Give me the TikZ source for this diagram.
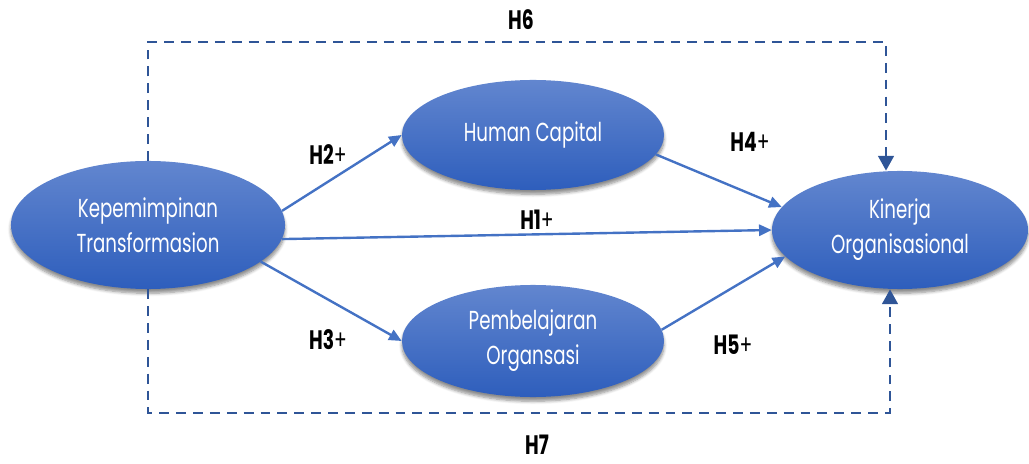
\documentclass[tikz,border=0pt]{standalone}
\usepackage{fontspec}
\setmainfont{Poppins}[FakeStretch=0.7]
\usetikzlibrary{arrows.meta, shapes.geometric, shadows.blur}

\begin{document}
\begin{tikzpicture}[x=0.025cm, y=-0.025cm,
    >=stealth,
    % Colors
    cline/.style={color={rgb,255:red,68;green,114;blue,196}},
    cdash/.style={color={rgb,255:red,47;green,85;blue,151}},
    % Styles
    latent/.style={ellipse, top color={rgb,255:red,98;green,134;blue,207},
                   bottom color={rgb,255:red,46;green,94;blue,188}, draw=none,
                   blur shadow={shadow xshift=0pt, shadow yshift=-3pt, shadow blur steps=6, shadow opacity=45},
                   inner sep=0pt, text=white, align=center, font=\fontsize{18.5}{25}\selectfont},
    hyp/.style={-{Triangle[length=9pt, width=8pt]}, line width=1.7pt, cline},
    hypdash/.style={-{Triangle[length=10.5pt, width=11pt]}, line width=2pt, cdash,
                    dash pattern=on 7pt off 5pt},
    lbl/.style={font=\bfseries\fontsize{19}{22}\selectfont, text=black},
  ]

  \useasboundingbox (0,0) rectangle (1029,464);

  % Variables
  \node[latent, minimum width=6.85cm, minimum height=3.2cm] (kep) at (148,225) {Kepemimpinan\\Transformasion};
  \node[latent, minimum width=6.55cm, minimum height=2.75cm] (hc) at (533,135) {Human Capital};
  \node[latent, minimum width=6.55cm, minimum height=2.8cm] (pem) at (533,341) {Pembelajaran\\Organsasi};
  \node[latent, minimum width=6.4cm, minimum height=2.95cm] (kin) at (900,230) {Kinerja\\Organisasional};

  % Direct paths
  \draw[hyp] (kep.6) -- (hc.west);
  \draw[hyp] (kep.-6) -- (kin.west);
  \draw[hyp] (kep.-18) -- (pem.west);
  \draw[hyp] (hc.-9) -- (kin.169);
  \draw[hyp] (pem.5) -- (kin.193);

  % Mediated paths
  \coordinate (topr) at (886,42);
  \coordinate (botr) at (890,413);
  \draw[hypdash] (kep.north) |- (topr) -- (kin.north -| topr);
  \draw[hypdash] (kep.south) |- (botr) -- (kin.south -| botr);

  % Labels
  \node[lbl] (h1) at (537,220) {H1{\mdseries+}};
  \node[lbl] (h2) at (328,155) {H2{\mdseries+}};
  \node[lbl] (h3) at (328,340) {H3{\mdseries+}};
  \node[lbl] (h4) at (750,142) {H4{\mdseries+}};
  \node[lbl] (h5) at (733,345) {H5{\mdseries+}};
  \node[lbl] (h6) at (521,20) {H6};
  \node[lbl] (h7) at (537,445) {H7};

\end{tikzpicture}
\end{document}
